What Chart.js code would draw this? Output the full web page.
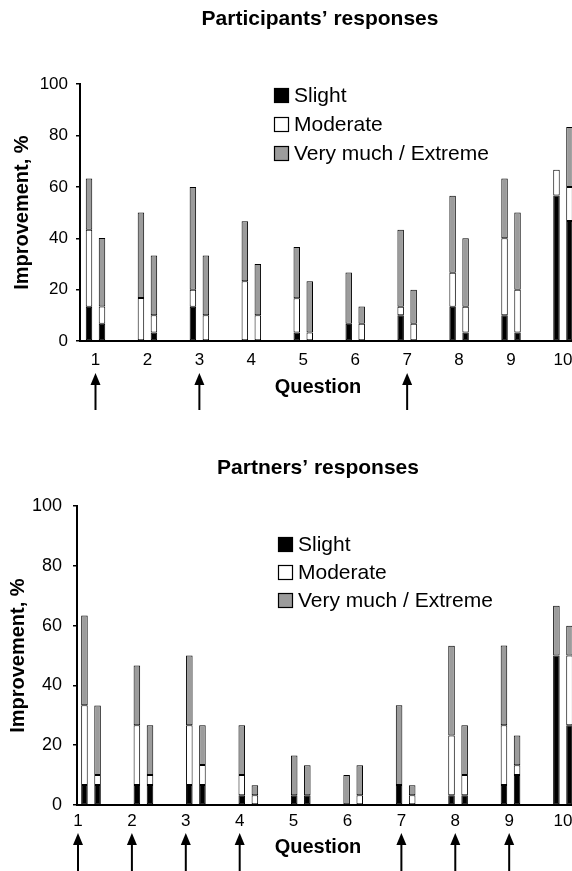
<!DOCTYPE html>
<html>
<head>
<meta charset="utf-8">
<script src="https://cdn.jsdelivr.net/npm/chart.js@4/dist/chart.umd.min.js"></script>
<style>
  html, body { margin: 0; padding: 0; background: #fff; }
  #wrap { width: 572px; height: 871px; overflow: hidden; }
  canvas { display: block; }
</style>
</head>
<body>
<div id="wrap">
  <canvas id="participants" width="640" height="430"></canvas>
  <canvas id="partners" width="636" height="441"></canvas>
</div>
<script>
// Questions on the x axis
const questions = [1, 2, 3, 4, 5, 6, 7, 8, 9, 10];
const yTicks = [0, 20, 40, 60, 80, 100];

// Participants' responses (first and second bar of each question), %
const partSlightA   = [13.3, 0, 13.3, 0, 3.3, 6.7, 10, 13.3, 10, 56.7];
const partModerateA = [30, 16.7, 6.7, 23.3, 13.3, 0, 3.3, 13.3, 30, 10];
const partExtremeA  = [20, 33.3, 40, 23.3, 20, 20, 30, 30, 23.3, 0];
const partSlightB   = [6.7, 3.3, 0, 0, 0, 0, 0, 3.3, 3.3, 46.7];
const partModerateB = [6.7, 6.7, 10, 10, 3.3, 6.7, 6.7, 10, 16.7, 13.3];
const partExtremeB  = [26.7, 23.3, 23.3, 20, 20, 6.7, 13.3, 26.7, 30, 23.3];
const partArrows = [1, 3, 7];

// Partners' responses, %
const partnerSlightA   = [6.7, 6.7, 6.7, 3.3, 3.3, 0, 6.7, 3.3, 6.7, 50];
const partnerModerateA = [26.7, 20, 20, 6.7, 0, 0, 0, 20, 20, 0];
const partnerExtremeA  = [30, 20, 23.3, 16.7, 13.3, 10, 26.7, 30, 26.7, 16.7];
const partnerSlightB   = [6.7, 6.7, 6.7, 0, 3.3, 0, 0, 3.3, 10, 26.7];
const partnerModerateB = [3.3, 3.3, 6.7, 3.3, 0, 3.3, 3.3, 6.7, 3.3, 23.3];
const partnerExtremeB  = [23.3, 16.7, 13.3, 3.3, 10, 10, 3.3, 16.7, 10, 10];
const partnerArrows = [1, 2, 3, 4, 7, 8, 9];

const FONT = "'Liberation Sans', Arial, sans-serif";
Chart.defaults.font.family = FONT;
Chart.defaults.color = "#000";

const levels = [
  { label: "Slight", color: "#000000" },
  { label: "Moderate", color: "#ffffff" },
  { label: "Very much / Extreme", color: "#9c9c9c" },
];

function buildDatasets(first, second) {
  const sets = [];
  [["first", first], ["second", second]].forEach(([stack, values]) => {
    values.forEach((vals, i) => {
      sets.push({
        label: levels[i].label,
        data: vals,
        stack: stack,
        backgroundColor: levels[i].color,
        borderColor: "#000",
        borderWidth: 1,
        borderSkipped: false,
        categoryPercentage: 0.5,
        barPercentage: 0.5,
      });
    });
  });
  return sets;
}

// Legend, arrows and x axis title
const responseMarks = {
  id: "responseMarks",
  afterDraw(chart, args, opts) {
    const ctx = chart.ctx;
    ctx.save();

    // legend, one entry per level
    const items = chart.data.datasets.filter((d) => d.stack === "first");
    ctx.font = opts.legendSize + "px " + FONT;
    ctx.textBaseline = "middle";
    ctx.textAlign = "left";
    items.forEach((d, i) => {
      const y = opts.legendY + i * opts.legendStep;
      ctx.fillStyle = d.backgroundColor;
      ctx.fillRect(opts.legendX, y, 15, 15);
      ctx.strokeStyle = "#000";
      ctx.lineWidth = 1.2;
      ctx.strokeRect(opts.legendX + 0.5, y + 0.5, 14, 14);
      ctx.fillStyle = "#000";
      ctx.fillText(d.label, opts.legendX + 20, y + 8);
    });

    // arrows under the marked questions
    const scale = chart.scales[opts.axis];
    ctx.strokeStyle = "#000";
    ctx.fillStyle = "#000";
    opts.arrows.forEach((q) => {
      const x = scale.getPixelForValue(q);
      ctx.lineWidth = 2;
      ctx.beginPath();
      ctx.moveTo(x, opts.arrowTop + 8);
      ctx.lineTo(x, opts.arrowBottom);
      ctx.stroke();
      ctx.beginPath();
      ctx.moveTo(x, opts.arrowTop);
      ctx.lineTo(x - 5, opts.arrowTop + 12);
      ctx.lineTo(x + 5, opts.arrowTop + 12);
      ctx.closePath();
      ctx.fill();
    });

    // x axis title
    ctx.font = "bold 20px " + FONT;
    ctx.textAlign = "center";
    ctx.fillText(opts.xTitle, opts.xTitleX, opts.xTitleY);
    ctx.restore();
  },
};

function yAxis(width, fontSize, pad, titlePad) {
  return {
    stacked: true,
    min: 0,
    max: 100,
    afterBuildTicks: (s) => { s.ticks = yTicks.map((v) => ({ value: v })); },
    afterFit: (s) => { s.width = width; },
    ticks: { font: { size: fontSize }, color: "#000", padding: pad },
    grid: { drawOnChartArea: false, drawTicks: true, tickLength: 4, color: "#000", lineWidth: 1.5 },
    border: { display: true, color: "#000", width: 2 },
    title: {
      display: true,
      text: "Improvement, %",
      color: "#000",
      font: { size: 20, weight: "bold" },
      padding: { top: titlePad, bottom: 0 },
    },
  };
}

function tickAxis(min, max, height, pad) {
  return {
    type: "linear",
    position: "bottom",
    stacked: true,
    offset: false,
    min: min,
    max: max,
    afterBuildTicks: (s) => { s.ticks = questions.map((v) => ({ value: v })); },
    afterFit: (s) => { s.height = height; },
    ticks: { font: { size: 17 }, color: "#000", padding: pad },
    grid: { display: true, drawOnChartArea: false, drawTicks: false },
    border: { display: true, color: "#000", width: 2 },
  };
}

// Participants
new Chart(document.getElementById("participants"), {
  type: "bar",
  data: {
    labels: questions,
    datasets: buildDatasets(
      [partSlightA, partModerateA, partExtremeA],
      [partSlightB, partModerateB, partExtremeB]
    ),
  },
  plugins: [responseMarks],
  options: {
    responsive: false,
    animation: false,
    layout: { padding: 0 },
    scales: {
      x: tickAxis(0.7016, 11.483, 89, 9),
      y: yAxis(80, 17, 8, 10),
    },
    plugins: {
      legend: { display: false },
      tooltip: { enabled: false },
      title: {
        display: true,
        text: "Participants\u2019 responses",
        color: "#000",
        font: { size: 21, weight: "bold" },
        padding: { top: 7, bottom: 52 },
      },
      responseMarks: {
        axis: "x",
        arrows: partArrows,
        arrowTop: 373,
        arrowBottom: 410,
        legendX: 274,
        legendY: 88,
        legendStep: 29,
        legendSize: 21,
        xTitle: "Question",
        xTitleX: 318,
        xTitleY: 387,
      },
    },
  },
});

// Partners
const partnerX = tickAxis(0.733, 11.393, 0, 0);
partnerX.display = false;
new Chart(document.getElementById("partners"), {
  type: "bar",
  data: {
    labels: questions,
    datasets: buildDatasets(
      [partnerSlightA, partnerModerateA, partnerExtremeA],
      [partnerSlightB, partnerModerateB, partnerExtremeB]
    ),
  },
  plugins: [responseMarks],
  options: {
    responsive: false,
    animation: false,
    layout: { padding: 0 },
    scales: {
      x: partnerX,
      xt: tickAxis(0.9814, 11.353, 66, 6),
      y: yAxis(77, 18, 11, 6),
    },
    plugins: {
      legend: { display: false },
      tooltip: { enabled: false },
      title: {
        display: true,
        text: "Partners\u2019 responses",
        color: "#000",
        font: { size: 21, weight: "bold" },
        padding: { top: 26, bottom: 25 },
      },
      responseMarks: {
        axis: "xt",
        arrows: partnerArrows,
        arrowTop: 403,
        arrowBottom: 446,
        legendX: 278,
        legendY: 107,
        legendStep: 28,
        legendSize: 21,
        xTitle: "Question",
        xTitleX: 318,
        xTitleY: 417,
      },
    },
  },
});
</script>
</body>
</html>
